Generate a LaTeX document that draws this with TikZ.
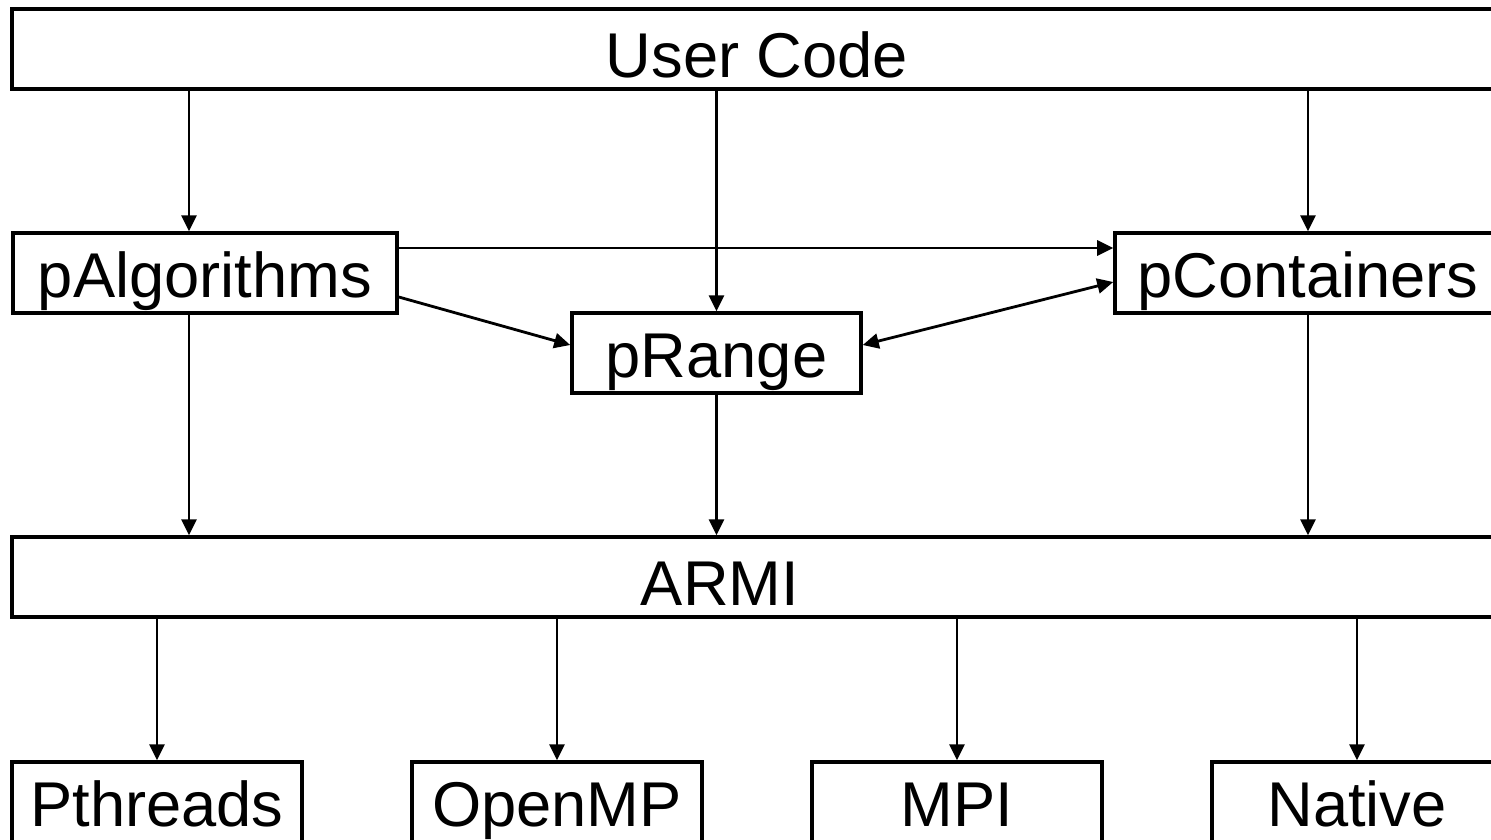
\documentclass[tikz,border=0pt]{standalone}
\usepackage{fontspec}
\setmainfont{Liberation Sans}
\usepackage{tikz}
\usetikzlibrary{positioning, arrows.meta}

\begin{document}
\begin{tikzpicture}[
    box/.style={rectangle, draw, line width=1pt, inner sep=0pt, minimum height=0.8cm,
        font=\fontsize{18}{18}\selectfont, text height=0.48cm, text depth=0pt},
    wide/.style={box, minimum width=14.9cm, text height=0.56cm},
    arrow/.style={-{Triangle[length=0.16cm, width=0.15cm]}, line width=0.8pt}
]
\clip (0,0) rectangle (14.91,-8.39);

% Ячейки
\node[wide] (user) at (7.57,-0.49) {User Code};
\node[box, minimum width=3.84cm] (palg) at (2.05,-2.73) {pAlgorithms};
\node[box, minimum width=3.86cm] (pcont) at (13.08,-2.73) {pContainers};
\node[box, minimum width=2.89cm] (prange) at (7.165,-3.53) {pRange};
\node[wide] (armi) at (7.57,-5.77) {};
\node[font=\fontsize{18}{18}\selectfont, text height=0.56cm, text depth=0pt, inner sep=0pt]
    (armitext) at ([xshift=-3.7mm]armi.center) {ARMI};

\node[box, minimum width=2.9cm] (pth) at (1.57,-8.02) {Pthreads};
\node[box, minimum width=2.9cm] (omp) at (5.57,-8.02) {OpenMP};
\node[box, minimum width=2.9cm] (mpi) at (9.57,-8.02) {MPI};
\node[box, minimum width=2.9cm] (nat) at (13.57,-8.02) {Native};

% Стрелки
\draw[arrow] ([xshift=-1.6mm]palg.north |- user.south) -- ([xshift=-1.6mm]palg.north);
\draw[arrow] (user.south -| prange.north) -- (prange.north);
\draw[arrow] (user.south -| pcont.north) -- (pcont.north);

\draw[arrow] ([yshift=2.5mm]palg.east) -- ([yshift=2.5mm]pcont.west);
\draw[arrow] ([yshift=-2.4mm]palg.east) -- ([yshift=0.8mm]prange.west);
\draw[arrow, {Triangle[length=0.16cm, width=0.15cm]}-{Triangle[length=0.16cm, width=0.15cm]}]
    ([yshift=-0.9mm]pcont.west) -- ([yshift=0.8mm]prange.east);

\draw[arrow] ([xshift=-1.6mm]palg.south) -- ([xshift=-1.6mm]palg.south |- armi.north);
\draw[arrow] (prange.south) -- (prange.south |- armi.north);
\draw[arrow] (pcont.south) -- (pcont.south |- armi.north);

\foreach \n in {pth, omp, mpi, nat}
    \draw[arrow] (armi.south -| \n.north) -- (\n.north);

\end{tikzpicture}
\end{document}
